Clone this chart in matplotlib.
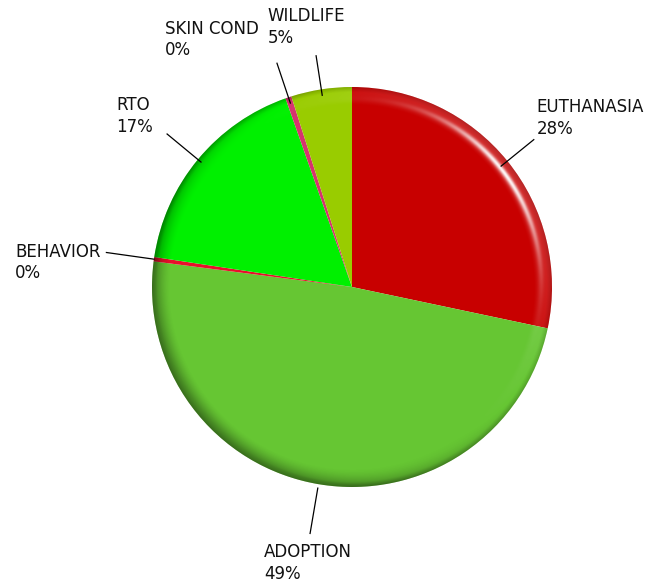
import numpy as np
import matplotlib.pyplot as plt
from matplotlib.patches import Circle

# data (percent of outcomes)
labels = ['EUTHANASIA', 'ADOPTION', 'BEHAVIOR', 'RTO', 'SKIN COND', 'WILDLIFE']
values = [28.3, 48.7, 0.35, 17.2, 0.49, 4.9]
colors = ['#c80000', '#66c633', '#e8102a', '#00f000', '#d6336e', '#99cc00']

# label layout: leader end radius, text offset, alignment
label_layout = {
    'EUTHANASIA': dict(r0=0.96, r1=1.17, dx=0.015, dy=0.01, ha='left', va='bottom'),
    'ADOPTION': dict(r0=1.02, r1=1.25, dx=-0.01, dy=-0.05, ha='center', va='top'),
    'BEHAVIOR': dict(r0=1.0, r1=1.24, dx=-0.03, dy=-0.05, ha='right', va='center'),
    'RTO': dict(r0=0.98, r1=1.2, dx=-0.07, dy=-0.01, ha='right', va='bottom'),
    'SKIN COND': dict(r0=0.97, r1=1.18, dx=-0.09, dy=0.02, ha='right', va='bottom'),
    'WILDLIFE': dict(r0=0.97, r1=1.17, dx=-0.05, dy=0.045, ha='center', va='bottom'),
}

fig = plt.figure(figsize=(6.49, 5.82), dpi=100)
ax = fig.add_axes([0, 0, 1, 1])

wedges, _ = ax.pie(values, colors=colors, startangle=90, counterclock=False,
                   radius=1, wedgeprops=dict(linewidth=0))

# bevel shading on the rim
n = 900
xs = np.linspace(-1, 1, n)
X, Y = np.meshgrid(xs, xs)
R = np.hypot(X, Y)
TH = np.arctan2(Y, X)
t = np.clip((R - 0.91) / 0.09, 0, 1)
phi = t ** 1.3 * np.radians(65)
nx = np.sin(phi) * np.cos(TH)
ny = np.sin(phi) * np.sin(TH)
nz = np.cos(phi)
L = np.array([0.6, 0.45, 0.65])
L = L / np.linalg.norm(L)
diff = nx * L[0] + ny * L[1] + nz * L[2] - L[2]
H = L + np.array([0, 0, 1.0])
H = H / np.linalg.norm(H)
spec = np.clip(nx * H[0] + ny * H[1] + nz * H[2], 0, 1) ** 60

white = np.clip(np.clip(diff, 0, None) * 0.5 + spec * 0.85, 0, 1)
black = np.clip(np.clip(-diff, 0, None) * 0.45, 0, 0.3)
black = np.clip(black + np.clip((R - 0.975) / 0.025, 0, 1) * 0.15, 0, 1)

dark = np.zeros((n, n, 4))
dark[..., 3] = black
light = np.ones((n, n, 4))
light[..., 3] = white

clip = Circle((0, 0), 1, transform=ax.transData)
for layer in (dark, light):
    im = ax.imshow(layer, extent=(-1, 1, -1, 1), origin='lower', interpolation='bilinear', zorder=2)
    im.set_clip_path(clip)

total = sum(values)
for w, lab, v in zip(wedges, labels, values):
    lay = label_layout[lab]
    mid = np.radians((w.theta1 + w.theta2) / 2)
    c, s = np.cos(mid), np.sin(mid)
    ax.plot([lay['r0'] * c, lay['r1'] * c], [lay['r0'] * s, lay['r1'] * s],
            color='black', lw=0.9, zorder=3)
    ax.text(lay['r1'] * c + lay['dx'], lay['r1'] * s + lay['dy'],
            f"{lab}\n{v / total * 100:.0f}%", ha=lay['ha'], va=lay['va'],
            multialignment='left', fontsize=12, linespacing=1.25, color='#111111', zorder=4)

# centre at (352, 287) px, 200 px per unit
ax.set_xlim(-352 / 200, (649 - 352) / 200)
ax.set_ylim(-(582 - 287) / 200, 287 / 200)
ax.set_aspect('equal')
ax.axis('off')

fig.savefig('out.png', dpi=100)
